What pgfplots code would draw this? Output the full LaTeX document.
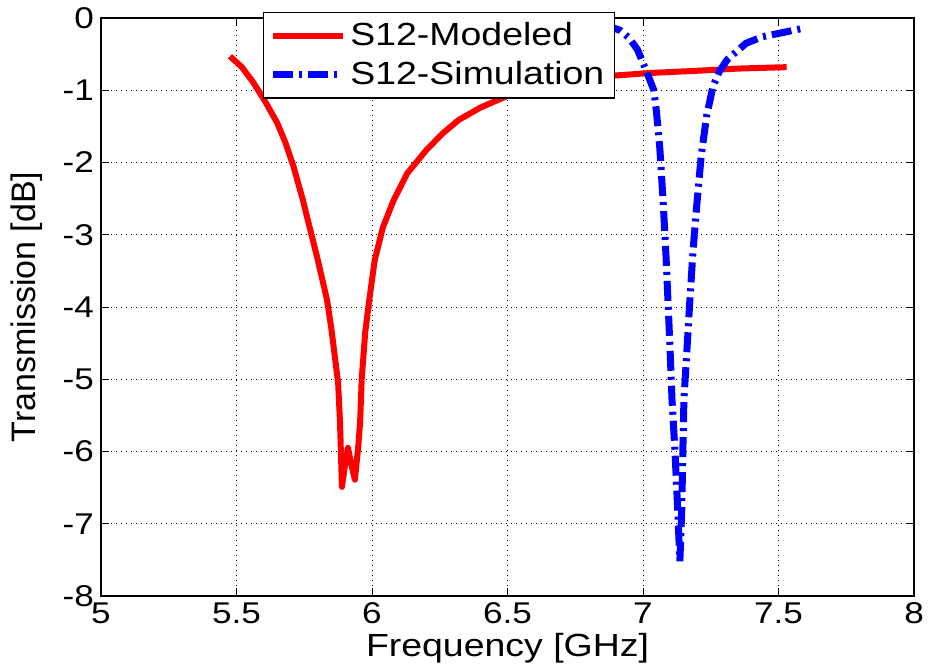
\documentclass[border=0pt]{standalone}
\usepackage{fontspec}
\setmainfont{Liberation Sans}[FakeStretch=1.17]
\newfontfamily\ylabfont{Liberation Sans}
\usepackage{pgfplots}
\pgfplotsset{compat=1.18}
\begin{document}
\begin{tikzpicture}
\path[use as bounding box] (-50.5pt,-37.5pt) rectangle (414.5pt,298pt);
\begin{axis}[
  at={(0,0)}, anchor=south west,
  scale only axis, width=406.5pt, height=289pt,
  xmin=5, xmax=8, ymin=-8, ymax=0,
  xtick={5,5.5,...,8}, ytick={-8,-7,...,0},
  xticklabels={5,5.5,6,6.5,7,7.5,8},
  /pgf/number format/assume math mode=true,
  font=\fontsize{15}{18}\selectfont,
  tick label style={font=\fontsize{15}{18}\selectfont},
  tick align=inside, major tick length=4pt,
  axis line style={line width=0.7pt},
  every tick/.style={black, line width=0.5pt},
  grid=major,
  major grid style={black, line width=0.5pt, dash pattern=on 0.5pt off 2pt},
  xlabel={Frequency [GHz]}, ylabel={Transmission [dB]},
  xlabel style={font=\fontsize{16}{19}\selectfont, inner sep=0pt, at={(axis description cs:0.5,0)}, anchor=base, yshift=-30pt},
  ylabel style={font=\ylabfont\fontsize{17}{20}\selectfont, at={(axis description cs:0,0.5)}, anchor=center, yshift=37pt},
  xticklabel style={inner sep=1pt, yshift=-2.3pt},
  legend style={at={(0.199,1.0104)}, anchor=north west, draw=black, line width=0.6pt,
    font=\fontsize{16}{19}\selectfont, inner xsep=3pt, inner ysep=3pt,
    row sep=2.5pt, cells={anchor=west}},
  legend image code/.code={\draw[#1] (0pt,0pt) -- (35pt,0pt);},
  legend cell align=left,
]
\addplot[red, line width=3pt, line join=round] coordinates {
(5.476,-0.53) (5.52,-0.68) (5.56,-0.88) (5.605,-1.15) (5.65,-1.45) (5.68,-1.72)
(5.71,-2.05) (5.745,-2.52) (5.77,-2.90) (5.80,-3.35) (5.834,-3.90) (5.85,-4.30)
(5.865,-4.75) (5.875,-5.05) (5.882,-5.6) (5.889,-6.49) (5.90,-6.2) (5.911,-5.95)
(5.925,-6.2) (5.937,-6.39) (5.95,-5.9) (5.956,-5.6) (5.962,-5.0) (5.975,-4.35)
(5.99,-3.90) (6.01,-3.35) (6.04,-2.90) (6.08,-2.52) (6.13,-2.15) (6.20,-1.83)
(6.26,-1.60) (6.32,-1.41) (6.40,-1.24) (6.51,-1.06) (6.60,-0.95) (6.69,-0.87)
(6.80,-0.82) (6.92,-0.79) (7.03,-0.76) (7.20,-0.73) (7.35,-0.70) (7.53,-0.68)
};
\addlegendentry{S12-Modeled}
\addplot[blue, line width=3.5pt, dash pattern=on 10pt off 3pt on 1.5pt off 3pt] coordinates {
(6.85,-0.08) (6.915,-0.17) (6.95,-0.28) (6.98,-0.44) (7.015,-0.76) (7.04,-1.0)
(7.05,-1.31) (7.062,-1.8) (7.074,-2.52) (7.085,-3.3) (7.092,-3.9) (7.10,-4.6)
(7.107,-5.28) (7.118,-6.0) (7.128,-6.8) (7.136,-7.52) (7.143,-6.8) (7.147,-6.0)
(7.151,-5.28) (7.162,-4.6) (7.173,-3.9) (7.185,-3.2) (7.20,-2.52) (7.215,-1.9)
(7.235,-1.35) (7.258,-0.95) (7.28,-0.75) (7.31,-0.58) (7.38,-0.35) (7.44,-0.26)
(7.53,-0.19) (7.58,-0.15)
};
\addlegendentry{S12-Simulation}
\end{axis}
\end{tikzpicture}
\end{document}
